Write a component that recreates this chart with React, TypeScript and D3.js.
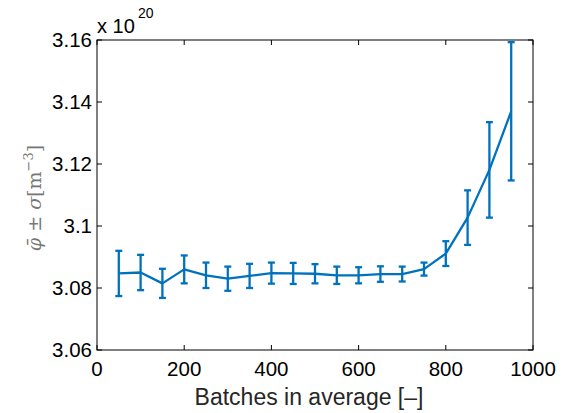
import React from "react";
import * as d3 from "d3";

const batches = [50, 100, 150, 200, 250, 300, 350, 400, 450, 500, 550, 600, 650, 700, 750, 800, 850, 900, 950];
const means = [3.0847, 3.0850, 3.0815, 3.0860, 3.0841, 3.0830, 3.0839, 3.0848, 3.0847, 3.0846, 3.0841, 3.0841, 3.0845, 3.0845, 3.0861, 3.0911, 3.1027, 3.1181, 3.1370];
const sigmas = [0.0073, 0.0057, 0.0047, 0.0045, 0.0041, 0.0039, 0.0039, 0.0034, 0.0034, 0.0031, 0.0028, 0.0026, 0.0025, 0.0024, 0.0021, 0.0040, 0.0088, 0.0154, 0.0223];
const xTicks = [0, 200, 400, 600, 800, 1000];
const yTicks = [3.06, 3.08, 3.1, 3.12, 3.14, 3.16];
const yTickLabels = ["3.06", "3.08", "3.1", "3.12", "3.14", "3.16"];

const W = 564, H = 413;
const L = 97, R = 533, T = 40, B = 350;
const COLOR = "#0072BD";
const FONT = "'Liberation Sans', Arial, Helvetica, sans-serif";

export default function App() {
  const x = d3.scaleLinear().domain([0, 1000]).range([L, R]);
  const y = d3.scaleLinear().domain([3.06, 3.16]).range([B, T]);
  const pts = batches.map((b, i) => ({ b, m: means[i], s: sigmas[i] }));
  const line = d3.line<{ b: number; m: number }>().x(d => x(d.b)).y(d => y(d.m));
  const tl = 5;
  const cap = 3.5;
  return (
    <svg width={W} height={H} style={{ position: "absolute", left: 0, top: 0, background: "#fff" }}>
      <rect x={0} y={0} width={W} height={H} fill="#fff" />
      {/* data */}
      <path d={line(pts) || ""} fill="none" stroke={COLOR} strokeWidth={2.3} strokeLinejoin="round" />
      {pts.map((p, i) => (
        <g key={i} stroke={COLOR} strokeWidth={2.3}>
          <line x1={x(p.b)} x2={x(p.b)} y1={y(p.m - p.s)} y2={y(p.m + p.s)} />
          <line x1={x(p.b) - cap} x2={x(p.b) + cap} y1={y(p.m - p.s)} y2={y(p.m - p.s)} />
          <line x1={x(p.b) - cap} x2={x(p.b) + cap} y1={y(p.m + p.s)} y2={y(p.m + p.s)} />
        </g>
      ))}
      {/* box */}
      <rect x={L} y={T} width={R - L} height={B - T} fill="none" stroke="#000" strokeWidth={1} />
      {xTicks.map((t, i) => (
        <g key={"x" + i}>
          <line x1={x(t)} x2={x(t)} y1={B} y2={B - tl} stroke="#000" />
          <line x1={x(t)} x2={x(t)} y1={T} y2={T + tl} stroke="#000" />
          <text x={x(t)} y={376} textAnchor="middle" fontFamily={FONT} fontSize={20.5} fill="#000">{t}</text>
        </g>
      ))}
      {yTicks.map((t, i) => (
        <g key={"y" + i}>
          <line x1={L} x2={L + tl} y1={y(t)} y2={y(t)} stroke="#000" />
          <line x1={R} x2={R - tl} y1={y(t)} y2={y(t)} stroke="#000" />
          <text x={92} y={y(t) + 7} textAnchor="end" fontFamily={FONT} fontSize={20.5} fill="#000">{yTickLabels[i]}</text>
        </g>
      ))}
      {/* exponent */}
      <text x={97} y={33} fontFamily={FONT} fontSize={20} fill="#000">x 10</text>
      <text x={138} y={18} fontFamily={FONT} fontSize={14} fill="#000">20</text>
      {/* x label */}
      <text x={309} y={405} textAnchor="middle" fontFamily={FONT} fontSize={23} fill="#262626">Batches in average [–]</text>
      {/* y label */}
      <g transform="translate(41,198) rotate(-90)">
        <text x={0} y={0} textAnchor="middle" fontFamily="'DejaVu Serif', 'Liberation Serif', serif" fontSize={19} fill="#777">
          <tspan fontStyle="italic">φ̄</tspan>
          <tspan> ± </tspan>
          <tspan fontStyle="italic">σ</tspan>
          <tspan>[m</tspan>
          <tspan dy={-8} fontSize={13}>−3</tspan>
          <tspan dy={8}>]</tspan>
        </text>
      </g>
    </svg>
  );
}
